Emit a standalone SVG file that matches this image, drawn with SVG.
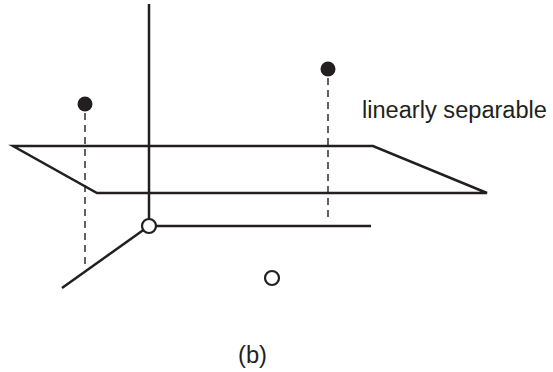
<svg xmlns="http://www.w3.org/2000/svg" width="553" height="372" viewBox="0 0 553 372">
<style>
.ln{stroke:#231f20;stroke-width:2.5;fill:none;stroke-linejoin:miter}
.ds{stroke:#231f20;stroke-width:1.4;fill:none;stroke-dasharray:7,5}
.dot{fill:#231f20}
.hole{fill:#fff;stroke:#231f20;stroke-width:2.2}
.t{font-family:"Liberation Sans",Arial,sans-serif;font-size:23px;fill:#231f20}
</style>
<rect width="553" height="372" fill="#fff"/>
<g id="axes">
<line class="ln" x1="149" y1="4" x2="149" y2="226"/>
<line class="ln" x1="149" y1="226" x2="371" y2="226"/>
<line class="ln" x1="149" y1="226" x2="62" y2="288"/>
</g>
<g id="plane">
<polygon class="ln" points="13,146 373,146 487,193 97,193"/>
</g>
<g id="connectors">
<line class="ds" x1="85" y1="113" x2="85" y2="266"/>
<line class="ds" x1="328" y1="78" x2="328" y2="220"/>
</g>
<g id="origin"><circle class="hole" cx="149" cy="226" r="7"/></g>
<g id="p1"><circle class="dot" cx="85" cy="104" r="7.5"/></g>
<g id="p2"><circle class="dot" cx="328" cy="69" r="7.5"/></g>
<g id="p3"><circle class="hole" cx="272" cy="278" r="7"/></g>
<g id="label"><text class="t" x="362" y="118" textLength="185" lengthAdjust="spacingAndGlyphs">linearly separable</text></g>
<g id="caption"><text class="t" x="238" y="363" textLength="29" lengthAdjust="spacingAndGlyphs">(b)</text></g>
</svg>
